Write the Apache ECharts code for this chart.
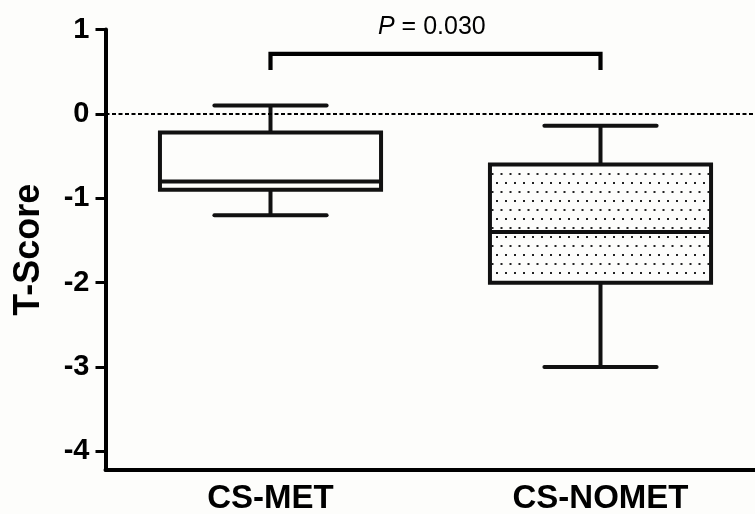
<!DOCTYPE html>
<html>
<head>
<meta charset="utf-8">
<script src="https://cdn.jsdelivr.net/npm/echarts@6/dist/echarts.min.js"></script>
<style>
html,body{margin:0;padding:0;background:#fdfdfb;}
#c{width:755px;height:514px;}
</style>
</head>
<body>
<div id="c"></div>
<script>
// ---- data ----
var categories = ['CS-MET', 'CS-NOMET'];
var whiskerLow = [-1.2, -3.0];
var q1Values = [-0.9, -2.0];
var medianValues = [-0.8, -1.4];
var q3Values = [-0.22, -0.6];
var whiskerHigh = [0.1, -0.14];
var yTickValues = [-4, -3, -2, -1, 0, 1];
var pValueText = '0.030';
var bracketLow = 0.52;
var bracketHigh = 0.71;

// dotted pattern for second box
var pat = document.createElement('canvas');
pat.width = 9; pat.height = 18;
var pctx = pat.getContext('2d');
pctx.fillStyle = '#fdfdfb';
pctx.fillRect(0, 0, 9, 18);
pctx.fillStyle = '#222';
pctx.fillRect(1, 2, 2, 2);
pctx.fillRect(5.5, 11, 2, 2);
var fills = ['#fdfdfb', { image: pat, repeat: 'repeat' }];

var boxData = categories.map(function (c, i) {
  return [i, whiskerLow[i], q1Values[i], medianValues[i], q3Values[i], whiskerHigh[i]];
});

var chart = echarts.init(document.getElementById('c'), null, { renderer: 'canvas' });
var LW = 4;
var FONT = 'Liberation Sans, Arial, sans-serif';

chart.setOption({
  backgroundColor: '#fdfdfb',
  animation: false,
  title: {
    text: '{i|P} = ' + pValueText,
    left: 373, top: 10,
    textStyle: {
      fontFamily: FONT, fontSize: 25, fontWeight: 'normal', color: '#000',
      rich: { i: { fontFamily: FONT, fontSize: 25, fontStyle: 'italic', color: '#000' } }
    }
  },
  grid: { left: 105.5, width: 660, top: 29.5, bottom: 44, containLabel: false, outerBoundsMode: 'none' },
  xAxis: {
    type: 'category',
    data: categories,
    boundaryGap: true,
    axisLine: { onZero: false, lineStyle: { color: '#000', width: LW } },
    axisTick: { alignWithLabel: true, inside: true, length: 13, lineStyle: { color: '#000', width: 3 } },
    axisLabel: { color: '#000', fontFamily: FONT, fontSize: 33, fontWeight: 'bold', margin: 12 },
    splitLine: { show: false }
  },
  yAxis: {
    type: 'value',
    min: -4.22, max: 1,
    name: 'T-Score',
    nameLocation: 'middle',
    nameGap: 58,
    nameTextStyle: { color: '#000', fontFamily: FONT, fontSize: 36, fontWeight: 'bold' },
    axisLine: { show: true, lineStyle: { color: '#000', width: LW } },
    axisTick: { show: true, customValues: yTickValues, length: 10, lineStyle: { color: '#000', width: 3 } },
    axisLabel: { customValues: yTickValues, color: '#000', fontFamily: FONT, fontSize: 29, fontWeight: 'bold', margin: 16 },
    splitLine: { show: false }
  },
  series: [
    {
      type: 'custom',
      data: boxData,
      encode: { x: 0, y: [1, 2, 3, 4, 5] },
      renderItem: function (params, api) {
        var idx = api.value(0);
        var pMin = api.coord([idx, api.value(1)]);
        var pQ1 = api.coord([idx, api.value(2)]);
        var pMed = api.coord([idx, api.value(3)]);
        var pQ3 = api.coord([idx, api.value(4)]);
        var pMax = api.coord([idx, api.value(5)]);
        var band = api.size([1, 0])[0];
        var bw = band * 0.67;
        var cw = band * 0.34;
        var cx = pMed[0];
        var ls = { stroke: '#111', lineWidth: LW, lineCap: 'round' };
        return {
          type: 'group',
          children: [
            { type: 'line', shape: { x1: cx, y1: pQ3[1], x2: cx, y2: pMax[1] }, style: { stroke: '#111', lineWidth: LW } },
            { type: 'line', shape: { x1: cx, y1: pQ1[1], x2: cx, y2: pMin[1] }, style: { stroke: '#111', lineWidth: LW } },
            { type: 'line', shape: { x1: cx - cw / 2, y1: pMax[1], x2: cx + cw / 2, y2: pMax[1] }, style: ls },
            { type: 'line', shape: { x1: cx - cw / 2, y1: pMin[1], x2: cx + cw / 2, y2: pMin[1] }, style: ls },
            { type: 'rect', shape: { x: cx - bw / 2, y: pQ3[1], width: bw, height: pQ1[1] - pQ3[1] },
              style: { fill: fills[idx], stroke: '#111', lineWidth: LW } },
            { type: 'line', shape: { x1: cx - bw / 2, y1: pMed[1], x2: cx + bw / 2, y2: pMed[1] }, style: { stroke: '#111', lineWidth: LW } }
          ]
        };
      },
      z: 3
    },
    {
      type: 'line',
      data: [[categories[0], bracketLow], [categories[0], bracketHigh], [categories[1], bracketHigh], [categories[1], bracketLow]],
      symbol: 'none',
      lineStyle: { color: '#000', width: 4.2, cap: 'butt', join: 'miter' },
      markLine: {
        silent: true,
        symbol: 'none',
        label: { show: false },
        lineStyle: { color: '#000', width: 1.8, type: [4, 2.5] },
        data: [{ yAxis: 0 }]
      },
      z: 2
    }
  ]
});
</script>
</body>
</html>
